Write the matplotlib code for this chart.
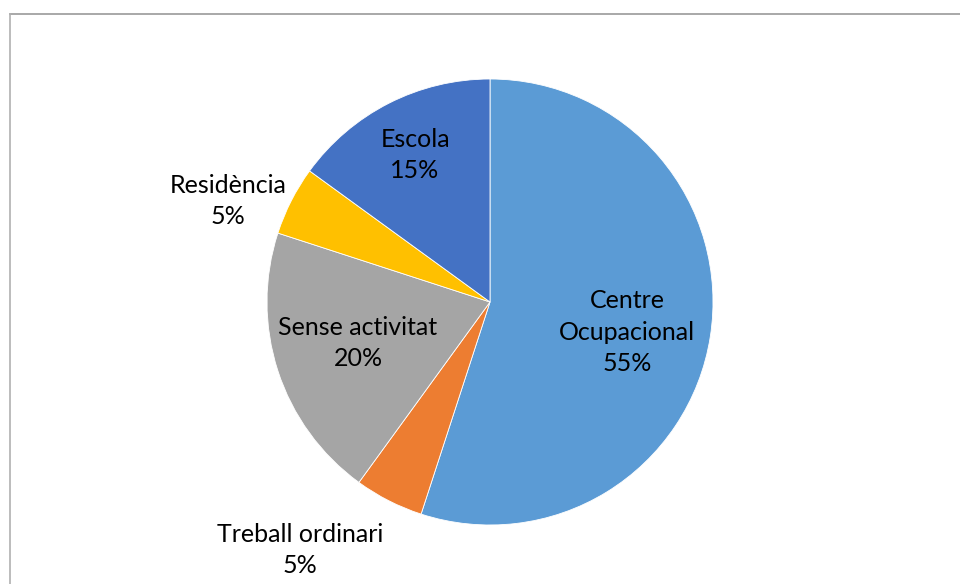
import numpy as np
import matplotlib
matplotlib.use("Agg")
import matplotlib.pyplot as plt
from matplotlib.lines import Line2D

labels = ["Centre\nOcupacional", "Treball ordinari", "Sense activitat", "Residència", "Escola"]
values = [55, 5, 20, 5, 15]
colors = ["#5B9BD5", "#ED7D31", "#A5A5A5", "#FFC000", "#4472C4"]

# label centres, in units of the pie radius
label_pos = [(0.614, -0.135), (-0.852, -1.112), (-0.592, -0.184), (-1.175, 0.453), (-0.336, 0.659)]

plt.rcParams["font.family"] = ["Lato", "DejaVu Sans"]

fig = plt.figure(figsize=(9.6, 5.84), dpi=100)

# pie centre ~ (490, 302) px, radius ~223 px
cx, cy, r = 490, 302, 223
ax = fig.add_axes([(cx - r) / 960, (584 - cy - r) / 584, 2 * r / 960, 2 * r / 584])
wedges, _ = ax.pie(values, colors=colors, startangle=90, counterclock=False,
                   radius=1, wedgeprops=dict(linewidth=0.6, edgecolor="white"))
ax.set_xlim(-1, 1)
ax.set_ylim(-1, 1)
ax.set_aspect("equal")
ax.axis("off")

total = sum(values)
for lab, v, (x, y) in zip(labels, values, label_pos):
    ax.text(x, y, f"{lab}\n{v / total:.0%}", ha="center", va="center",
            fontsize=18, color="#000000", linespacing=1.45, clip_on=False)

# chart-area border (top and left visible)
fig.add_artist(Line2D([10 / 960, 1], [1 - 14 / 584, 1 - 14 / 584], color="#999999", lw=1.2))
fig.add_artist(Line2D([10 / 960, 10 / 960], [0, 1 - 14 / 584], color="#b0b0b0", lw=1.2))

fig.savefig("out.png", dpi=100)
